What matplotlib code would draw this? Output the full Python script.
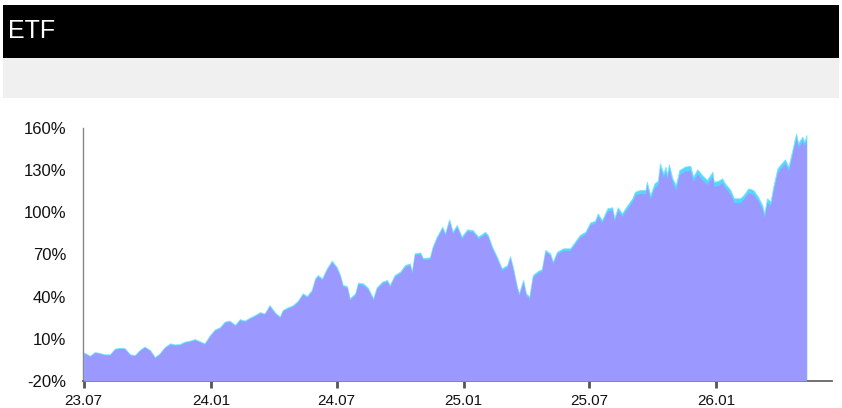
import matplotlib
matplotlib.use("Agg")
import matplotlib.pyplot as plt
from matplotlib.patches import Rectangle
import numpy as np
import pandas as pd

# ---- data ----
start_date = "2023-07-01"
day_offsets = [0, 1, 9, 16, 23, 30, 38, 45, 52, 59, 67, 74, 81, 88, 96, 103, 110, 117, 125, 132,
               139, 146, 154, 161, 168, 175, 183, 190, 197, 204, 211, 219, 226, 233, 240, 248, 255,
               262, 269, 277, 284, 288, 295, 303, 310, 317, 323, 330, 335, 339, 345, 352, 359, 366,
               371, 375, 381, 385, 393, 397, 404, 411, 419, 424, 432, 439, 443, 450, 458, 465, 472,
               475, 479, 487, 491, 501, 505, 511, 519, 523, 529, 534, 540, 547, 555, 563, 571, 581,
               585, 591, 598, 605, 613, 617, 621, 627, 630, 636, 640, 645, 650, 658, 663, 668, 675,
               679, 685, 694, 704, 711, 718, 726, 733, 740, 744, 750, 758, 765, 768, 773, 779, 786,
               794, 798, 805, 813, 815, 820, 826, 831, 834, 839, 842, 844, 847, 852, 857, 862, 870,
               878, 882, 888, 895, 902, 910, 912, 918, 924, 928, 936, 941, 950, 955, 962, 969, 976,
               982, 985, 989, 994, 998, 1004, 1010, 1015, 1020, 1025, 1031, 1034, 1040, 1043, 1046]

series_a = [0, 0.1, -2, 0.6, 0, -1, -1, 3, 3.7, 3.5, -1, -1.5, 2, 4.5, 2, -3, -0.3, 4, 6.8, 6,
            6.3, 8, 8.8, 9.8, 8.3, 6.8, 12.8, 16.8, 18.2, 22.2, 23, 20, 24, 23, 25, 27, 29, 28.1,
            34, 28.6, 25.8, 30.5, 32.4, 34, 37.1, 42.4, 40.5, 44.7, 53.1, 55.4, 53, 60.2, 65.6,
            61.3, 55.4, 48.3, 47.6, 38.8, 42.4, 50, 49.5, 46.6, 38.8, 46.6, 50.7, 51.9, 48.3, 55.4,
            57.8, 62.5, 63.7, 57.8, 70.9, 71.5, 67.5, 68, 75.6, 82.7, 89.8, 85.1, 95, 86.2, 91,
            82.7, 87.9, 87.4, 82.7, 86.2, 83.9, 75.6, 68.4, 60.2, 62.5, 68.9, 61.3, 47.1, 42.4,
            51.9, 42.4, 40, 55.4, 58.5, 59.5, 73.2, 70.9, 64.9, 72, 74.4, 74.4, 79.1, 83.9, 86.2,
            92.8, 94, 99.3, 94.5, 102.9, 103.6, 95.8, 103.6, 99.3, 104.5, 110, 114.7, 115.9, 115.9,
            121.8, 112.3, 120.6, 122.5, 134.9, 127.8, 132.5, 126.6, 134.2, 124.2, 119.4, 130.1,
            132.5, 133.2, 125.4, 130.6, 126.6, 123, 128.9, 121.8, 122.3, 124.2, 120.6, 115.9, 110,
            110, 112.3, 117.1, 115.9, 111.1, 105.2, 99.3, 110, 107.6, 118.3, 131.3, 134.9, 137.7,
            132.5, 143.1, 156.2, 149.1, 153.8, 150.3, 155]

series_b = [0, -0.4, -2.5, 0.1, -0.5, -1.5, -1.5, 2.5, 3.2, 3, -1.5, -2, 1.5, 4, 1.5, -3.5, -0.8,
            3.5, 6.2, 5.4, 5.7, 7.4, 8.2, 9.2, 7.7, 6.2, 12.2, 16.1, 17.5, 21.5, 22.3, 19.3, 23.3,
            22.3, 24.3, 26.3, 28.3, 27.4, 33.3, 27.9, 25.1, 29.8, 31.6, 33.2, 36.3, 41.5, 39.6,
            43.7, 52.1, 54.4, 52, 59.2, 64.5, 60.2, 54.3, 47.2, 46.5, 37.7, 41.3, 48.9, 48.4, 45.5,
            37.7, 45.5, 49.6, 50.8, 47.2, 54.3, 56.7, 61.3, 62.5, 56.6, 69.7, 70.3, 66.3, 66.8,
            74.4, 81.4, 88.5, 83.8, 93.6, 84.8, 89.6, 81.3, 86.5, 86, 81.3, 84.8, 82.5, 74.2, 67,
            58.8, 61.1, 67.5, 59.9, 45.7, 41, 50.5, 41, 38.6, 54, 57.1, 58.1, 71.8, 69.5, 63.5,
            70.6, 72.9, 72.9, 77.6, 82.3, 84.6, 91.1, 92.2, 97.5, 92.6, 100.9, 101.5, 93.7, 101.4,
            97.1, 102.2, 107.6, 112.3, 113.4, 113.3, 119.2, 109.5, 117.6, 119.4, 131.7, 124.6,
            129.3, 123.4, 131, 121, 116.2, 126.9, 129.2, 129.8, 122, 127.2, 123.2, 119.7, 125.6,
            118.5, 119, 121, 117.5, 112.8, 107, 107, 109.3, 114.1, 112.9, 108.1, 102.2, 96.3, 107,
            104.6, 115.3, 128.3, 131.9, 134.7, 129.5, 140.1, 153, 146.1, 150.6, 147.4, 152]

tick_dates = ["2023-07-01", "2024-01-01", "2024-07-01", "2025-01-01", "2025-07-01", "2026-01-01"]
tick_labels = ["23.07", "24.01", "24.07", "25.01", "25.07", "26.01"]
y_ticks = [-20, 10, 40, 70, 100, 130, 160]
title = "ETF"

# ---- figure ----
W, H = 842, 408
fig = plt.figure(figsize=(W / 100, H / 100), dpi=100)
fig.patch.set_facecolor("white")

# header bands
fig.patches.append(Rectangle((3 / W, 1 - 58 / H), 836 / W, 53 / H, transform=fig.transFigure,
                             facecolor="black", edgecolor="none", zorder=0))
fig.patches.append(Rectangle((3 / W, 1 - 98 / H), 836 / W, 40 / H, transform=fig.transFigure,
                             facecolor="#f0f0f0", edgecolor="none", zorder=0))
fig.text(8 / W, 1 - 31 / H, title, color="white", fontsize=18,
         family=["Liberation Sans Narrow", "Liberation Sans", "DejaVu Sans"],
         va="center", ha="left")

ax = fig.add_axes([83 / W, 1 - 381 / H, (832 - 83) / W, (381 - 128) / H])

t0 = pd.Timestamp(start_date)
dates = t0 + pd.to_timedelta(np.array(day_offsets), unit="D")
a = np.array(series_a)
b = np.array(series_b)

ax.fill_between(dates, -20, a, color="#55d6fb", linewidth=0.6, edgecolor="#7fe3ff", zorder=2)
ax.fill_between(dates, -20, b, color="#9b99ff", linewidth=0, zorder=3)

ax.set_ylim(-20, 160)
ax.set_xlim(t0 - pd.Timedelta(days=1), t0 + pd.Timedelta(days=1083))

ax.set_yticks(y_ticks)
ax.set_yticklabels([f"{v}%" for v in y_ticks])
ax.set_xticks(pd.to_datetime(tick_dates))
ax.set_xticklabels(tick_labels)

for s in ["top", "right"]:
    ax.spines[s].set_visible(False)
ax.spines["left"].set_color("#888888")
ax.spines["left"].set_linewidth(1.0)
ax.spines["bottom"].set_color("#666666")
ax.spines["bottom"].set_linewidth(1.3)

ax.tick_params(axis="y", length=0, pad=12, labelsize=12, labelcolor="#111111")
ax.tick_params(axis="x", direction="inout", length=10, width=2, color="#555555",
               pad=4.5, labelsize=11, labelcolor="#111111")
for lbl in ax.get_xticklabels() + ax.get_yticklabels():
    lbl.set_family(["Liberation Sans", "DejaVu Sans"])

fig.savefig("out.png", dpi=100)
